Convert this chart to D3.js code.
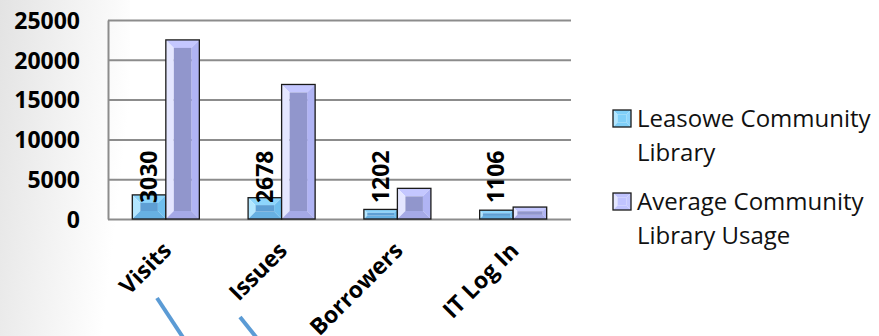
<!DOCTYPE html>
<html>
<head>
<meta charset="utf-8">
<script src="https://cdn.jsdelivr.net/npm/d3@7"></script>
<style>
  html, body { margin: 0; padding: 0; background: #fff; }
  svg { display: block; }
  .tick text { font-family: "Open Sans", sans-serif; font-weight: bold; font-size: 23px; fill: #000; }
</style>
</head>
<body>
<svg id="chart" width="879" height="336"></svg>
<script>
// Data
const categories = ["Visits", "Issues", "Borrowers", "IT Log In"];
const seriesNames = ["Leasowe Community Library", "Average Community Library Usage"];
const legendLines = [["Leasowe Community", "Library"], ["Average Community", "Library Usage"]];
const leasowe = [3030, 2678, 1202, 1106];
const average = [22500, 16900, 3850, 1500];
const yTicks = [0, 5000, 10000, 15000, 20000, 25000];

// Bevel colours for each series: top, left, right, bottom, inner
const palettes = [
  { top: "#8dd5fc", left: "#b2e6ff", right: "#6fbeee", bottom: "#67b0e2", inner: "#5e9fd4", swatch: "#7fcff8" },
  { top: "#c4c7ff", left: "#e4e6ff", right: "#b0b4f4", bottom: "#a5a9e6", inner: "#9196cc", swatch: "#c0c3ff" }
];

const margin = { top: 20, left: 108, right: 308, bottom: 117 };
const svg = d3.select("#chart");
const W = +svg.attr("width"), H = +svg.attr("height");
const width = W - margin.left - margin.right;
const height = H - margin.top - margin.bottom;

// Slide background fading in from the left
const defs = svg.append("defs");
const grad = defs.append("linearGradient").attr("id", "bg").attr("x1", 0).attr("x2", 1).attr("y1", 0).attr("y2", 0.3);
grad.append("stop").attr("offset", "0%").attr("stop-color", "#e3e3e3");
grad.append("stop").attr("offset", "100%").attr("stop-color", "#ffffff");
svg.append("rect").attr("width", 130).attr("height", H).attr("fill", "url(#bg)");

const chart = svg.append("g").attr("transform", `translate(${margin.left},${margin.top})`);

const x0 = d3.scaleBand().domain(categories).range([0, width]).paddingInner(0.421).paddingOuter(0.21);
const x1 = d3.scaleBand().domain(d3.range(2)).range([0, x0.bandwidth()]);
const y = d3.scaleLinear().domain([0, 25000]).range([height, 0]);

// Gridlines + tick labels
const yAxis = d3.axisLeft(y).tickValues(yTicks).tickFormat(d3.format("d"))
  .tickSize(-width).tickSizeOuter(0).tickPadding(28);
const yAxisG = chart.append("g").call(yAxis);
yAxisG.selectAll(".tick line").attr("stroke", "#8c8c8c").attr("stroke-width", 2);
yAxisG.select(".domain").attr("stroke", "#8c8c8c").attr("stroke-width", 2);
yAxisG.selectAll(".tick text").attr("dy", "0.36em");

// Draw a bevelled bar like the Excel style
function bevelBar(g, x, yy, w, h, pal, maxB) {
  const b = Math.min(maxB, w * 0.25, h * 0.35);
  const poly = (pts, fill) => g.append("polygon").attr("points", pts.map(p => p.join(",")).join(" ")).attr("fill", fill);
  poly([[x, yy], [x + w, yy], [x + w - b, yy + b], [x + b, yy + b]], pal.top);
  poly([[x, yy], [x + b, yy + b], [x + b, yy + h - b], [x, yy + h]], pal.left);
  poly([[x + w, yy], [x + w, yy + h], [x + w - b, yy + h - b], [x + w - b, yy + b]], pal.right);
  poly([[x, yy + h], [x + b, yy + h - b], [x + w - b, yy + h - b], [x + w, yy + h]], pal.bottom);
  g.append("rect").attr("x", x + b).attr("y", yy + b).attr("width", Math.max(0, w - 2 * b)).attr("height", Math.max(0, h - 2 * b)).attr("fill", pal.inner);
  g.append("rect").attr("x", x).attr("y", yy).attr("width", w).attr("height", h)
    .attr("fill", "none").attr("stroke", "#1a1a1a").attr("stroke-width", 1.3);
}

const series = [leasowe, average];
const bars = chart.append("g");
categories.forEach((c, i) => {
  series.forEach((vals, s) => {
    const bx = x0(c) + x1(s);
    const by = y(vals[i]);
    bevelBar(bars.append("g"), bx, by, x1.bandwidth(), y(0) - by, palettes[s], 8);
  });
});

// Data labels for Leasowe, rotated
chart.append("g").selectAll("text")
  .data(categories)
  .join("text")
    .attr("transform", (d, i) => `translate(${x0(d) + x1(0) + x1.bandwidth() / 2 + 8},${y(2000)}) rotate(-90)`)
    .attr("text-anchor", "start")
    .style("font-family", "Open Sans, sans-serif")
    .style("font-weight", "bold")
    .style("font-size", "23px")
    .text((d, i) => leasowe[i]);

// Category labels, rotated -45
chart.append("g").selectAll("text")
  .data(categories)
  .join("text")
    .attr("transform", d => `translate(${x0(d) + x0.bandwidth() / 2 + 7},${height + 33}) rotate(-45)`)
    .attr("text-anchor", "end")
    .style("font-family", "Open Sans, sans-serif")
    .style("font-weight", "bold")
    .style("font-size", "23px")
    .text(d => d);

// Legend
const legend = svg.append("g").attr("transform", "translate(613,0)");
const legendBase = [127, 210];
seriesNames.forEach((name, s) => {
  const item = legend.append("g");
  const sw = item.append("g");
  bevelBar(sw, 0, legendBase[s] - 17, 18, 17, {
    top: palettes[s].swatch, left: palettes[s].left, right: palettes[s].top,
    bottom: palettes[s].swatch, inner: palettes[s].swatch
  }, 5);
  const t = item.append("text")
    .attr("x", 24).attr("y", legendBase[s])
    .style("font-family", "Open Sans, sans-serif")
    .style("font-size", "24px")
    .attr("fill", "#111");
  legendLines[s].forEach((ln, k) => {
    t.append("tspan").attr("x", 24).attr("y", legendBase[s] + k * 34).text(ln);
  });
});

// Blue pointer lines under the first two categories
const pointers = [[[157, 298], [186, 342]], [[240, 317], [260, 342]]];
svg.append("g").selectAll("line")
  .data(pointers)
  .join("line")
    .attr("x1", d => d[0][0]).attr("y1", d => d[0][1])
    .attr("x2", d => d[1][0]).attr("y2", d => d[1][1])
    .attr("stroke", "#5b9bd5").attr("stroke-width", 4);
</script>
</body>
</html>
